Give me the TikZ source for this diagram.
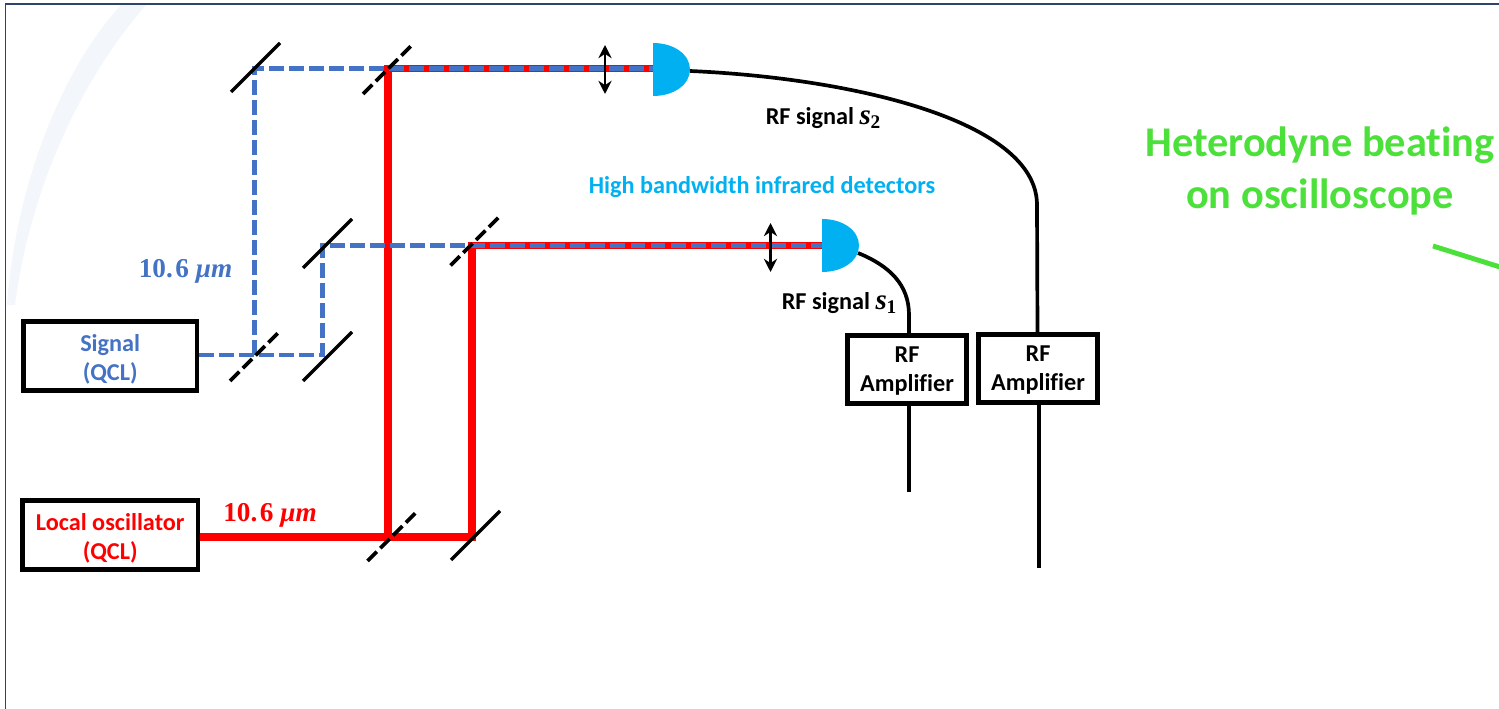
\documentclass[tikz,border=0pt]{standalone}
\usepackage{fontspec}
\setmainfont[Ligatures=NoCommon]{Carlito}
\newfontfamily\symfont{Liberation Serif}
\usetikzlibrary{arrows.meta, calc}
\definecolor{myframe}{HTML}{2F4468}
\definecolor{myarc}{HTML}{F3F6FB}
\definecolor{myblue}{HTML}{4472C4}
\definecolor{mycyan}{HTML}{00B0F0}
\definecolor{mygreen}{HTML}{4CE03A}
\newcommand{\wavelen}{\symfont\bfseries 10.\kern1.5pt6 \textit{μm}}
\newcommand{\rfsym}[1]{{\symfont\bfseries\itshape\fontsize{16.5}{18}\selectfont s\kern-0.2pt\raisebox{-2.5pt}{\fontsize{11}{12}\selectfont\upshape #1}}}
\newcommand{\topgap}[1]{\rule{0pt}{#1pt}}
\tikzset{
    labbox/.style={draw=black, line width=2.6pt, fill=white, align=center, inner sep=0pt, font=\bfseries\fontsize{13.8}{16.5}\selectfont},
    redbeam/.style={red, line width=4.2pt},
    bluebeam/.style={myblue, line width=2.6pt, dash pattern=on 8.5pt off 2.9pt},
    mirror/.style={black, line width=1.9pt},
    splitter/.style={black, line width=2.1pt, dash pattern=on 7.5pt off 2.8pt},
    rfline/.style={black, line width=2.1pt},
    adjust/.style={black, line width=1.7pt, {Stealth[length=7.5pt,width=7.5pt]}-{Stealth[length=7.5pt,width=7.5pt]}},
    txt/.style={font=\bfseries\fontsize{13.8}{16.5}\selectfont, align=center, inner sep=0pt}
}

\begin{document}
\begin{tikzpicture}[x=0.02cm, y=-0.02cm]
    \useasboundingbox (0,0) rectangle (1499,709);

    \fill[myarc] (122,4) .. controls (60,70) and (15,190) .. (7,305) -- (15,305) .. controls (30,190) and (80,80) .. (147,4) -- cycle;
    \draw[myframe, line width=1pt] (1499,4) -- (5.5,4) -- (5.5,709);

    \node[labbox, text=myblue, minimum width=3.47cm, minimum height=1.38cm] (sig) at (110.2,356) {\topgap{14}Signal\\(QCL)};
    \node[labbox, text=red, minimum width=3.51cm, minimum height=1.39cm] (lo) at (110.2,535) {\topgap{14}Local oscillator\\(QCL)};
    \node[labbox, minimum width=2.39cm, minimum height=1.37cm] (ampa) at (907,369.5) {\topgap{10.4}RF\\Amplifier};
    \node[labbox, minimum width=2.39cm, minimum height=1.37cm] (ampb) at (1038,368.5) {\topgap{10.4}RF\\Amplifier};

    \coordinate (bslow) at (388,537);
    \coordinate (mlow) at (472,537);
    \coordinate (bsmid) at (472,245.5);
    \coordinate (bstop) at (388,68.7);
    \coordinate (bssig) at (254.7,355);
    \coordinate (msig) at (322.5,355);
    \coordinate (mmid) at (322.5,245.5);
    \coordinate (mtop) at (254.7,68.7);
    \coordinate (deta) at (822,245.5);
    \coordinate (detb) at (653,69.5);
    \coordinate (deta out) at (858,253);
    \coordinate (detb out) at (690,71);
    \coordinate (enda) at (909,492);
    \coordinate (endb) at (1039,568);
    \coordinate (adja up) at (770.5,223);
    \coordinate (adja down) at (770.5,272);
    \coordinate (adjb up) at (605,45);
    \coordinate (adjb down) at (605,94);
    \coordinate (scope in) at (1433,246);
    \coordinate (scope out) at (1500,267);

    \draw[redbeam] (lo.east |- bslow) -- (mlow) -- (bsmid) -- (deta);
    \draw[redbeam] (bslow) -- (bstop) -- (detb |- bstop);
    \draw[bluebeam] (sig.east |- bssig) -- (msig) -- (mmid) -- (deta);
    \draw[bluebeam] (bssig) -- (mtop) -- (detb |- mtop);

    \foreach \x/\y in {255.5/67.5, 327.5/243.5, 327.5/356.5, 475.5/535.5} {
        \draw[mirror] (\x-24.5,\y+24.5) -- (\x+24.5,\y-24.5);
    }
    \foreach \x/\y in {387.5/69.5, 475/241, 254.5/356.5, 392/536.5} {
        \draw[splitter] (\x-24.5,\y+24.5) -- (\x+24.5,\y-24.5);
    }

    \foreach \d in {deta, detb} {
        \fill[mycyan] ($(\d)+(0,-26.5)$) .. controls +(21,0) and +(0,-15) .. ($(\d)+(37,0)$) .. controls +(0,15) and +(21,0) .. ($(\d)+(0,26.5)$) -- cycle;
    }

    \draw[adjust] (adja up) -- (adja down);
    \draw[adjust] (adjb up) -- (adjb down);

    \draw[rfline] (deta out) .. controls (890,266) and (909,285) .. (909,315) -- (ampa.north -| 909,0);
    \draw[rfline] (detb out) .. controls (850,78) and (1037,120) .. (1037,205) -- (ampb.north -| 1037.5,0);
    \draw[rfline] (ampa.south -| enda) -- (enda);
    \draw[rfline] (ampb.south -| endb) -- (endb);
    \draw[mygreen, line width=2.8pt] (scope in) -- (scope out);

    \node[txt, text=myblue, font=\fontsize{15.5}{18}\selectfont] (lblsig) at (185.5,271) {\wavelen};
    \node[txt, text=red, font=\fontsize{15.5}{18}\selectfont] (lbllo) at (270,515) {\wavelen};
    \node[txt] (lbls2) at (823,118) {RF signal \rfsym{2}};
    \node[txt] (lbls1) at (839,303) {RF signal \rfsym{1}};
    \node[txt, text=mycyan] (lbldet) at (762,187) {High bandwidth infrared detectors};
    \node[txt, text=mygreen, font=\bfseries\fontsize{24.1}{29.6}\selectfont] (lblscope) at (1320,170.5) {Heterodyne beating\\on oscilloscope};
\end{tikzpicture}
\end{document}
